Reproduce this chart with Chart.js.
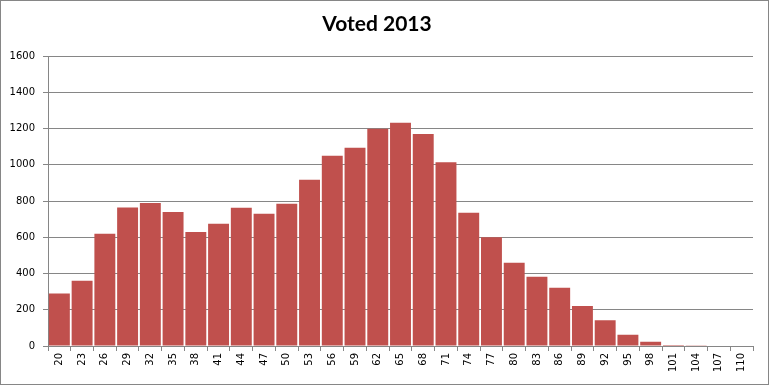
<!DOCTYPE html>
<html>
<head>
<meta charset="utf-8">
<script src="https://cdn.jsdelivr.net/npm/chart.js@4"></script>
<style>
  body { margin: 0; background: #fff; }
  #wrap { width: 767px; height: 383px; border: 1px solid #868686; }
</style>
</head>
<body>
<div id="wrap"><canvas id="chart" width="767" height="383"></canvas></div>
<script>
let ages = ["20", "23", "26", "29", "32", "35", "38", "41", "44", "47", "50",
	"53", "56", "59", "62", "65", "68", "71", "74", "77", "80",
	"83", "86", "89", "92", "95", "98", "101", "104", "107", "110"];
let voted = [290, 360, 620, 765, 790, 740, 630, 675, 763, 730, 785,
	918, 1050, 1095, 1200, 1232, 1170, 1015, 735, 600, 460,
	383, 322, 221, 142, 62, 24, 6, 1, 0, 0];

let axisGrey = "#868686";

let config = {
	type: "bar",
	data: {
		labels: ages,
		datasets: [
			{
				label: "Voted 2013",
				data: voted,
				backgroundColor: "#C0504D",
				borderWidth: 0,
				barPercentage: 0.92,
				categoryPercentage: 1.0,
			},
		],
	},
	options: {
		responsive: false,
		animation: false,
		layout: {
			padding: { left: 0, right: 15, top: 0, bottom: 0 },
		},
		plugins: {
			legend: { display: false },
			tooltip: { enabled: false },
			title: {
				display: true,
				text: "Voted 2013",
				color: "#000",
				font: { family: "Lato", size: 21, weight: "bold" },
				padding: { top: 11, bottom: 19 },
			},
		},
		scales: {
			x: {
				grid: {
					offset: true,
					drawOnChartArea: false,
					tickLength: 5,
					color: axisGrey,
				},
				border: { color: axisGrey },
				ticks: {
					autoSkip: false,
					minRotation: 90,
					maxRotation: 90,
					padding: 2,
					color: "#000",
					font: { family: "DejaVu Sans", size: 10 },
				},
				afterFit: (scale) => {
					scale.height = 38;
				},
			},
			y: {
				min: 0,
				max: 1600,
				ticks: {
					stepSize: 200,
					padding: 8,
					color: "#000",
					font: { family: "DejaVu Sans", size: 10 },
					// plain numbers, no thousands separator
					callback: (value) => String(value),
				},
				grid: {
					color: axisGrey,
					tickLength: 5,
				},
				border: { color: axisGrey },
				afterFit: (scale) => {
					scale.width = 47;
				},
			},
		},
	},
};

const chart = new Chart(document.getElementById("chart"), config);
</script>
</body>
</html>
